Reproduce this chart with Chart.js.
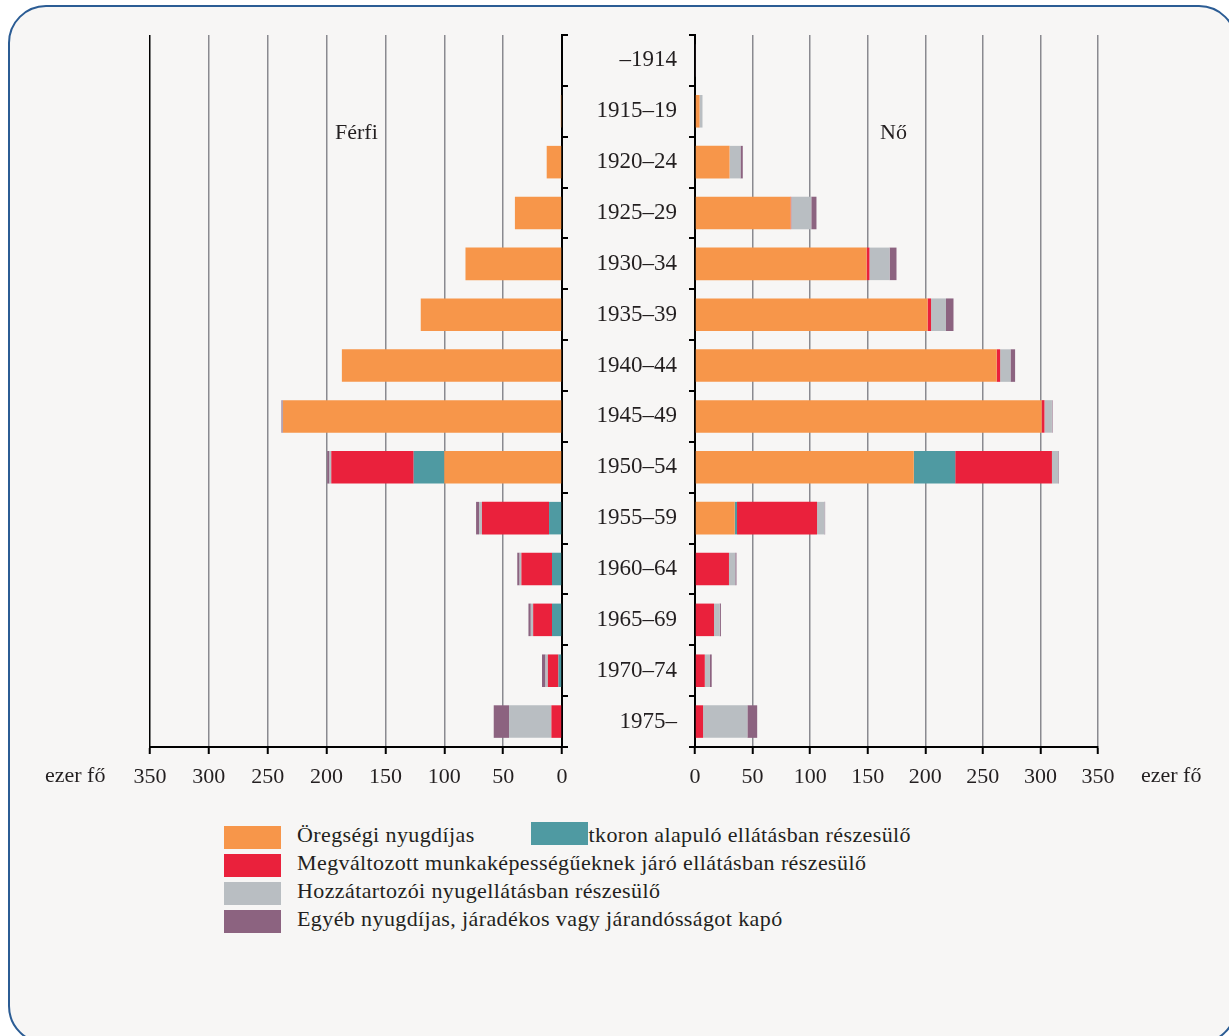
<!DOCTYPE html>
<html>
<head>
<meta charset="utf-8">
<script src="https://cdn.jsdelivr.net/npm/chart.js@4.4.1/dist/chart.umd.min.js"></script>
<style>
  body { margin: 0; background: #fff; width: 1229px; height: 1036px; overflow: hidden; position: relative;
         font-family: "Liberation Serif", "DejaVu Serif", serif; color: #231f20; }
  #frame { position: absolute; left: 8px; top: 5px; width: 1225px; height: 1035px;
           border: 2px solid #2b5c94; border-radius: 38px; background: #f7f6f5; }
  canvas { position: absolute; top: 0; }
  .txt { position: absolute; font-size: 22px; white-space: nowrap; }
  .lg { letter-spacing: 0.4px; }
  .sq { position: absolute; width: 57px; height: 23px; }
</style>
</head>
<body>
<div id="frame"></div>
<canvas id="men" width="600" height="800" style="left:0;width:600px;height:800px"></canvas>
<canvas id="women" width="649" height="800" style="left:580px;width:649px;height:800px"></canvas>

<div class="txt" style="left:335px;top:119px">Férfi</div>
<div class="txt" style="left:880px;top:119px">Nő</div>
<div class="txt" style="left:45px;top:762px">ezer fő</div>
<div class="txt" style="left:1141px;top:762px">ezer fő</div>
<div id="legend"></div>

<script>
// korcsoportok
var categories = ['–1914','1915–19','1920–24','1925–29','1930–34','1935–39','1940–44',
  '1945–49','1950–54','1955–59','1960–64','1965–69','1970–74','1975–'];
var seriesNames = [
  'Öregségi nyugdíjas',
  'Életkoron alapuló ellátásban részesülő',
  'Megváltozott munkaképességűeknek járó ellátásban részesülő',
  'Hozzátartozói nyugellátásban részesülő',
  'Egyéb nyugdíjas, járadékos vagy járandósságot kapó'
];
var colors = ['#f7964a', '#4f9aa2', '#ea213c', '#b9bec2', '#8c6380'];
var xTicks = [0, 50, 100, 150, 200, 250, 300, 350];

// Férfi (ezer fő)
var menOld     = [0, 1, 13, 40, 82, 120, 187, 237, 100, 0, 0, 0, 0, 0];
var menAge     = [0, 0, 0, 0, 0, 0, 0, 0, 26, 11, 8.5, 8.5, 3, 0];
var menReduced = [0, 0, 0, 0, 0, 0, 0, 0, 70, 57, 26, 16, 9, 9];
var menSurv    = [0, 0, 0, 0, 0, 0, 0, 0.3, 1.5, 2.5, 1.5, 2, 2, 36];
var menOther   = [0, 0, 0, 0, 0, 0, 0, 1, 2, 2.5, 2, 2, 3, 13];

// Nő (ezer fő)
var womenOld     = [0, 4, 30, 83, 149, 202, 262, 301, 190, 34.5, 0, 0, 0, 0];
var womenAge     = [0, 0, 0, 0, 0, 0, 0, 0, 36, 2, 0, 0, 0, 0];
var womenReduced = [0, 0, 0, 0.5, 2.5, 3, 3, 2.5, 84, 69.5, 29.5, 16.5, 8.5, 7];
var womenSurv    = [0, 2.5, 9.5, 17.5, 17.5, 13, 9, 6.5, 5.5, 6.5, 5.5, 5, 4.5, 38.5];
var womenOther   = [0.5, 0, 2, 4.5, 6, 6.5, 4, 0.5, 0.5, 0.5, 1, 1, 1.5, 8.5];

var serif = '"Liberation Serif", "DejaVu Serif", serif';
var tickFont = { family: serif, size: 22 };
var catFont = { family: serif, size: 23 };

function makeSets(arrs) {
  return arrs.map(function (d, i) {
    return { label: seriesNames[i], data: d, backgroundColor: colors[i], borderWidth: 0,
             barPercentage: 0.64, categoryPercentage: 1 };
  });
}

function xScale(reverse, blackAt) {
  return {
    stacked: true, min: 0, max: 350, reverse: reverse,
    afterBuildTicks: function (s) { s.ticks = xTicks.map(function (v) { return { value: v }; }); },
    afterFit: function (s) { s.height = 53; },
    ticks: { font: tickFont, color: '#231f20', padding: 10, maxRotation: 0 },
    grid: {
      color: function (c) { return c.tick && c.tick.value === blackAt ? '#000' : '#8a8a90'; },
      lineWidth: 1.5, tickLength: 7, tickColor: '#000', tickWidth: 2
    },
    border: { color: '#000', width: 2 }
  };
}

function yScale(pos, width, showLabels) {
  return {
    stacked: true, position: pos,
    afterFit: function (s) { s.width = width; },
    ticks: { display: showLabels, font: catFont, color: '#231f20', padding: 12 },
    grid: { drawOnChartArea: false, tickLength: 6, color: '#000', lineWidth: 2 },
    border: { color: '#000', width: 2 }
  };
}

var common = { responsive: false, animation: false, indexAxis: 'y',
  plugins: { legend: { display: false }, tooltip: { enabled: false } } };

new Chart(document.getElementById('men'), {
  type: 'bar',
  data: { labels: categories, datasets: makeSets([menOld, menAge, menReduced, menSurv, menOther]) },
  options: Object.assign({}, common, {
    layout: { padding: { left: 150, top: 35, right: 0, bottom: 0 } },
    scales: { x: xScale(true, 350), y: yScale('right', 38, false) }
  })
});

new Chart(document.getElementById('women'), {
  type: 'bar',
  data: { labels: categories, datasets: makeSets([womenOld, womenAge, womenReduced, womenSurv, womenOther]) },
  options: Object.assign({}, common, {
    layout: { padding: { left: 0, top: 35, right: 131, bottom: 0 } },
    scales: { x: xScale(false, -1), y: yScale('left', 115, true) }
  })
});

// jelmagyarázat (a türkiz négyzet eltakarja a szöveg elejét, mint az eredetin)
var legendPos = [
  [224, 826, 297, 822], [531, 822, 558, 822], [224, 854, 297, 850],
  [224, 882, 297, 878], [224, 910, 297, 906]
];
var lg = document.getElementById('legend');
seriesNames.forEach(function (name, i) {
  var p = legendPos[i];
  var t = document.createElement('div');
  t.className = 'txt lg';
  t.style.left = p[2] + 'px'; t.style.top = p[3] + 'px';
  t.textContent = name;
  lg.appendChild(t);
  var s = document.createElement('div');
  s.className = 'sq';
  s.style.left = p[0] + 'px'; s.style.top = p[1] + 'px';
  s.style.background = colors[i];
  lg.appendChild(s);
});
</script>
</body>
</html>
